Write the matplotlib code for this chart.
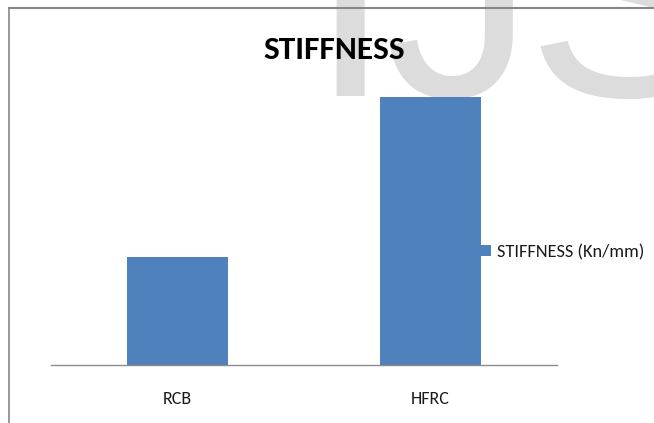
import matplotlib
matplotlib.use("Agg")
import matplotlib.pyplot as plt
from matplotlib import font_manager
from matplotlib.lines import Line2D

categories = ["RCB", "HFRC"]
stiffness = [10.9, 27.0]
series_label = "STIFFNESS (Kn/mm)"
title = "STIFFNESS"

names = {f.name for f in font_manager.fontManager.ttflist}
font = next((n for n in ("Carlito", "Archivo Narrow", "Liberation Sans") if n in names), "DejaVu Sans")

W, H = 654, 423
fig = plt.figure(figsize=(W / 100, H / 100), dpi=100)
fig.patch.set_facecolor("white")


def fx(px):
    return px / W


def fy(py):
    return 1 - py / H


# background watermark letters
wm_color = "#dcdcdc"
wm_size = 216
for ch, x in [("I", 308), ("J", 384), ("S", 526)]:
    fig.text(fx(x), fy(96), ch, fontsize=wm_size, color=wm_color,
             family="Liberation Sans", ha="left", va="baseline", zorder=-5)

# chart border (top and left edges)
fig.add_artist(Line2D([fx(9), 1.0], [fy(8), fy(8)], color="#868686", lw=1.5, zorder=-1))
fig.add_artist(Line2D([fx(9), fx(9)], [fy(8), 0.0], color="#868686", lw=1.2, zorder=-1))

ax = fig.add_axes([fx(51), fy(365), fx(557) - fx(51), (365 - 67) / H])
ax.patch.set_alpha(0)
ax.bar(range(len(categories)), stiffness, width=0.4, color="#4f81bd", label=series_label, zorder=2)
ax.set_xlim(-0.5, len(categories) - 0.5)
ax.set_ylim(0, 30)
ax.set_yticks([])
ax.set_xticks(range(len(categories)))
ax.set_xticklabels(categories, family=font, fontsize=13, color="#1a1a1a")
ax.tick_params(axis="x", length=0, pad=19)
for s in ("top", "right", "left"):
    ax.spines[s].set_visible(False)
ax.spines["bottom"].set_color("#8c8c8c")
ax.spines["bottom"].set_linewidth(1.0)

fig.text(fx(334), fy(50), title, family=font, fontweight="bold", fontsize=24,
         ha="center", va="center", color="black")

leg = ax.legend(loc="center left", bbox_to_anchor=(fx(465), fy(252)), bbox_transform=fig.transFigure,
                frameon=False, handlelength=0.5, handleheight=0.6, handletextpad=0.35,
                prop={"family": font, "size": 13.2})
for t in leg.get_texts():
    t.set_color("#1a1a1a")

fig.savefig("out.png", dpi=100, facecolor="white")
